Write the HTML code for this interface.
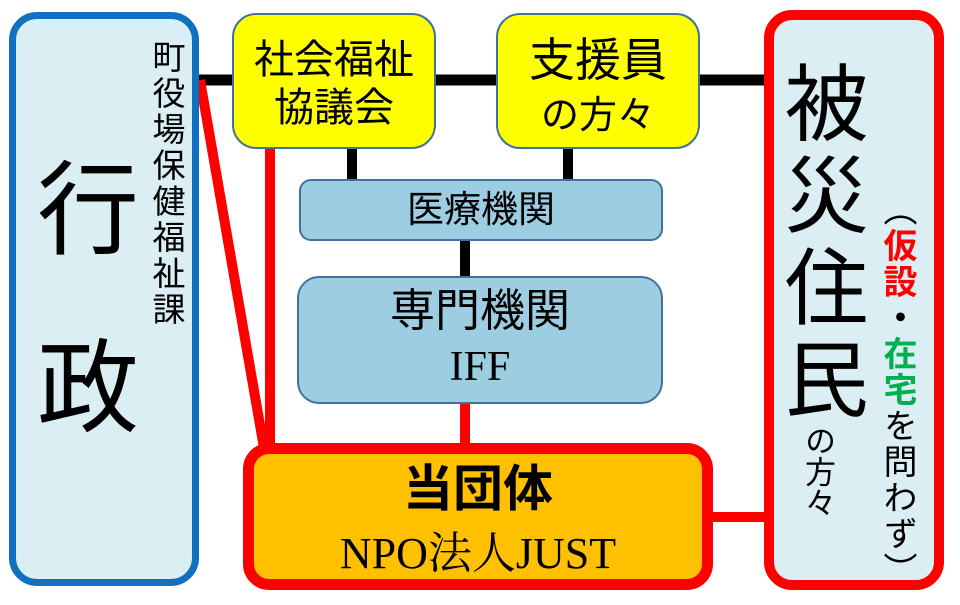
<!DOCTYPE html>
<html><head><meta charset="utf-8"><style>
body{margin:0;width:960px;height:605px;background:#fff;position:relative;overflow:hidden;font-family:"Liberation Sans","Noto Sans CJK JP",sans-serif;}
.b{position:absolute;box-sizing:border-box;}
.t{position:absolute;text-align:center;line-height:1;color:#000;}
.v{writing-mode:vertical-rl;text-orientation:upright;}
svg{position:absolute;left:0;top:0;}
</style></head><body>
<svg width="960" height="605">
<line x1="198" y1="80" x2="240" y2="80" stroke="#000" stroke-width="11"/>
<line x1="430" y1="80" x2="500" y2="80" stroke="#000" stroke-width="11"/>
<line x1="695" y1="80" x2="772" y2="80" stroke="#000" stroke-width="11"/>
<line x1="352" y1="145" x2="352" y2="183" stroke="#000" stroke-width="10"/>
<line x1="568" y1="145" x2="568" y2="183" stroke="#000" stroke-width="10"/>
<line x1="465" y1="238" x2="465" y2="280" stroke="#000" stroke-width="10"/>
<line x1="200" y1="80" x2="264" y2="448" stroke="#f00" stroke-width="10"/>
<line x1="270" y1="148" x2="270" y2="448" stroke="#f00" stroke-width="10"/>
<line x1="465" y1="402" x2="465" y2="448" stroke="#f00" stroke-width="10"/>
<line x1="710" y1="517" x2="772" y2="517" stroke="#f00" stroke-width="10"/>
</svg>
<div class="b" style="left:9px;top:12px;width:190px;height:574px;border:7px solid #1170c0;border-radius:28px;background:#dbeef4;"></div>
<div class="t" style="left:28px;top:160px;width:120px;font-size:102px;">行</div>
<div class="t" style="left:28px;top:338px;width:120px;font-size:102px;">政</div>
<div class="t v" style="left:150px;top:40px;font-size:33px;letter-spacing:3px;">町役場保健福祉課</div>

<div class="b" style="left:232px;top:13px;width:204px;height:136px;border:2px solid #41719c;border-radius:24px;background:#ffff00;"></div>
<div class="t" style="left:232px;top:36px;width:204px;font-size:40px;line-height:48px;">社会福祉<br>協議会</div>
<div class="b" style="left:496px;top:13px;width:204px;height:136px;border:2px solid #41719c;border-radius:24px;background:#ffff00;"></div>
<div class="t" style="left:496px;top:34px;width:204px;font-size:46px;line-height:52px;">支援員<br><span style="font-size:38px">の方々</span></div>

<div class="b" style="left:299px;top:179px;width:364px;height:62px;border:2px solid #41719c;border-radius:12px;background:#9dcde0;"></div>
<div class="t" style="left:299px;top:191px;width:364px;font-size:37px;">医療機関</div>
<div class="b" style="left:297px;top:276px;width:366px;height:128px;border:2px solid #41719c;border-radius:22px;background:#9dcde0;"></div>
<div class="t" style="left:297px;top:288px;width:366px;font-size:45px;">専門機関</div>
<div class="t" style="left:297px;top:346px;width:366px;font-size:42px;font-family:'Liberation Serif',serif;">IFF</div>

<div class="b" style="left:243px;top:443px;width:470px;height:147px;border:11px solid #f00;border-radius:26px;background:#ffc000;"></div>
<div class="t" style="left:243px;top:464px;width:470px;font-size:50px;font-weight:bold;">当団体</div>
<div class="t" style="left:243px;top:532px;width:470px;font-size:44px;font-family:'Liberation Serif','Noto Serif CJK SC',serif;">NPO法人JUST</div>

<div class="b" style="left:764px;top:10px;width:180px;height:580px;border:10px solid #f00;border-radius:28px;background:#dbeef4;"></div>
<div class="t v" style="left:778px;top:60px;font-size:84px;letter-spacing:8px;">被災住民</div>
<div class="t v" style="left:802px;top:425px;font-size:31px;">の方々</div>
<div class="t v" style="left:880px;top:192px;font-size:34px;font-weight:bold;letter-spacing:2px;"><span style="font-weight:normal">（</span><span style="color:#f00">仮設</span>・<span style="color:#00b050">在宅</span><span style="font-weight:normal">を問わず）</span></div>
</body></html>
